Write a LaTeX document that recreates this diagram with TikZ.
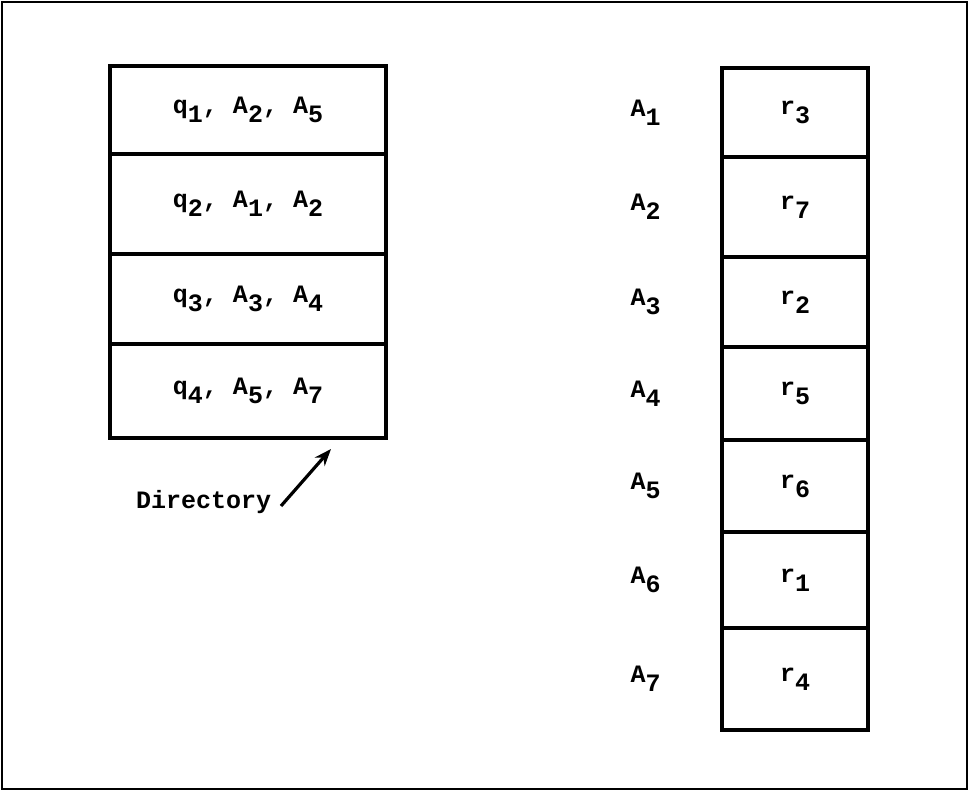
\documentclass[tikz,border=0pt]{standalone}
\usepackage{fontspec}
\setmonofont{Liberation Mono}
\usetikzlibrary{arrows.meta}
\newcommand\lo[1]{\raisebox{-9pt}{#1}}
\tikzset{
  txt/.style={font=\ttfamily\bfseries\fontsize{25}{30}\selectfont, inner sep=0pt},
  cell/.style={txt, draw, line width=3.4pt, rectangle},
  dircell/.style={cell, minimum width=276pt},
  mapcell/.style={cell, minimum width=146pt},
}
\begin{document}
\begin{tikzpicture}[x=1pt,y=-1pt]
  % outer frame
  \draw[line width=2.2pt, fill=white] (2,2) rectangle (967,789);
  \useasboundingbox (0,0) rectangle (969,791);

  % directory table
  \node[dircell, minimum height=88pt]  (d1) at (248,110) {q\lo{1}, A\lo{2}, A\lo{5}};
  \node[dircell, minimum height=100pt] (d2) at (248,204) {q\lo{2}, A\lo{1}, A\lo{2}};
  \node[dircell, minimum height=90pt]  (d3) at (248,299) {q\lo{3}, A\lo{3}, A\lo{4}};
  \node[dircell, minimum height=94pt]  (d4) at (248,391) {q\lo{4}, A\lo{5}, A\lo{7}};

  \node[txt, anchor=base west] (dir) at (136,508) {Directory};
  \coordinate (dtip) at (331,449);
  \draw[line width=3.2pt, -{Stealth[length=17pt,width=13pt]}] (281,506) -- (dtip);

  % attribute map
  \node[mapcell, minimum height=89pt]  (m1) at (795,112.5) {r\lo{3}};
  \node[mapcell, minimum height=100pt] (m2) at (795,207)   {r\lo{7}};
  \node[mapcell, minimum height=90pt]  (m3) at (795,302)   {r\lo{2}};
  \node[mapcell, minimum height=93pt]  (m4) at (795,393.5) {r\lo{5}};
  \node[mapcell, minimum height=92pt]  (m5) at (795,486)   {r\lo{6}};
  \node[mapcell, minimum height=96pt]  (m6) at (795,580)   {r\lo{1}};
  \node[mapcell, minimum height=102pt] (m7) at (795,679)   {r\lo{4}};

  \foreach \i in {1,...,7}
    \node[txt, anchor=west] (a\i) at ([xshift=-90pt]m\i.west) {A\lo{\i}};
\end{tikzpicture}
\end{document}
